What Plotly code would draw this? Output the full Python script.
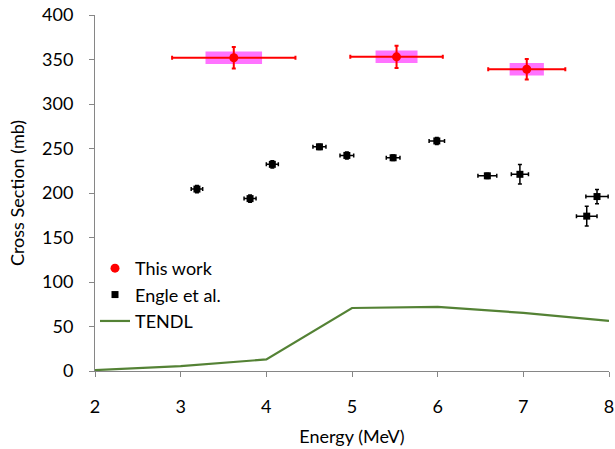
import plotly.graph_objects as go

# This work
tw_x = [3.62, 5.52, 7.04]
tw_y = [352, 353, 339]
tw_xerr = [0.72, 0.54, 0.45]
tw_yerr = [12, 12.5, 11.5]
tw_box_xerr = [0.33, 0.245, 0.2]
tw_box_yerr = [7, 7, 7]

# Engle et al.
en_x = [3.19, 3.81, 4.07, 4.62, 4.94, 5.48, 5.99, 6.58, 6.96, 7.74, 7.86]
en_y = [204.4, 193.7, 232.2, 251.9, 242.2, 239.6, 258.5, 219.3, 221, 174, 196]
en_xerr = [0.067, 0.07, 0.07, 0.076, 0.08, 0.08, 0.09, 0.11, 0.1, 0.12, 0.13]
en_yerr = [4, 4, 4, 3, 4, 3, 4, 3, 11, 11, 8]

# TENDL
td_x = [2, 3, 4, 5, 6, 7, 8]
td_y = [1, 5.5, 13, 70.8, 72, 65.3, 56.4]

FONT = "Lato"
FS = 18
fig = go.Figure()

# magenta uncertainty boxes
fig.add_trace(go.Bar(
    x=tw_x,
    y=[2 * e for e in tw_box_yerr],
    base=[y - e for y, e in zip(tw_y, tw_box_yerr)],
    width=[2 * e for e in tw_box_xerr],
    marker=dict(color="rgba(255,0,255,0.55)", line=dict(width=0)),
    showlegend=False, hoverinfo="skip",
))

fig.add_trace(go.Scatter(
    x=tw_x, y=tw_y, mode="markers", name="This work", legendrank=1,
    marker=dict(symbol="circle", size=9, color="red"),
    error_x=dict(type="data", array=tw_xerr, color="red", thickness=2, width=2),
    error_y=dict(type="data", array=tw_yerr, color="red", thickness=2, width=2),
))

fig.add_trace(go.Scatter(
    x=en_x, y=en_y, mode="markers", name="Engle et al.", legendrank=2,
    marker=dict(symbol="square", size=7, color="black"),
    error_x=dict(type="data", array=en_xerr, color="black", thickness=1.5, width=2),
    error_y=dict(type="data", array=en_yerr, color="black", thickness=1.5, width=2),
))

fig.add_trace(go.Scatter(
    x=td_x, y=td_y, mode="lines", name="TENDL", legendrank=3,
    line=dict(color="#548235", width=2.2),
))

fig.update_layout(
    width=615, height=449,
    margin=dict(l=95, r=6, t=15, b=74),
    paper_bgcolor="white", plot_bgcolor="white",
    font=dict(family=FONT, size=FS, color="black"),
    barmode="overlay",
    legend=dict(
        x=0.0, y=0.34, xanchor="left", yanchor="top",
        traceorder="normal", bgcolor="rgba(0,0,0,0)",
        font=dict(family=FONT, size=FS), itemwidth=30,
    ),
    xaxis=dict(
        range=[2, 8], dtick=1, tick0=2,
        showgrid=False, zeroline=False,
        showline=True, linecolor="#868686", linewidth=1,
        ticks="outside", ticklen=5, tickcolor="#868686",
        ticklabelstandoff=14, ticklabeloverflow="allow", automargin="bottom",
        title=dict(text="Energy (MeV)", font=dict(family=FONT, size=FS), standoff=14),
    ),
    yaxis=dict(
        range=[0, 400], dtick=50,
        showgrid=False, zeroline=False,
        showline=True, linecolor="#868686", linewidth=1,
        ticks="outside", ticklen=5, tickcolor="#868686",
        ticklabelstandoff=12, ticklabeloverflow="allow", automargin="left",
        title=dict(text="Cross Section (mb)", font=dict(family=FONT, size=FS), standoff=12),
    ),
)

fig.write_html(
    "out.html",
    config={"displayModeBar": False},
    post_script="document.body.style.margin='0';document.body.style.overflow='hidden';",
)
